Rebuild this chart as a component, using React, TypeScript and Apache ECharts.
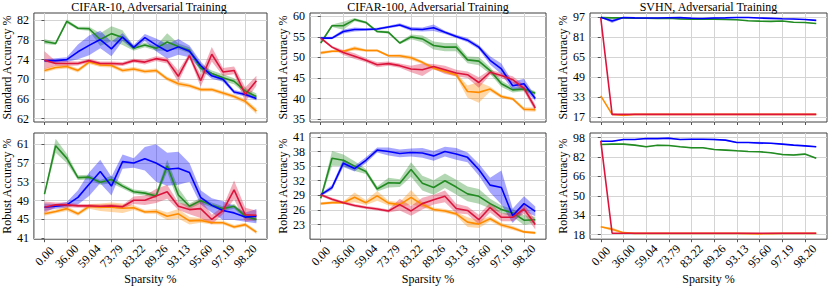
import React, { useEffect, useRef } from 'react';
import * as echarts from 'echarts';

// ---------- data ----------
const sparsityLabels = ['0.00', '36.00', '59.04', '73.79', '83.22', '89.26', '93.13', '95.60', '97.19', '98.20'];
const sparsityTickIdx = [0, 2, 4, 6, 8, 10, 12, 14, 16, 18];

const panelTitles = ['CIFAR-10, Adversarial Training', 'CIFAR-100, Adversarial Training', 'SVHN, Adversarial Training'];
const rowNames = ['Standard Accuracy %', 'Robust Accuracy %'];

// y ticks per panel
const yTicksC10Std = [62, 66, 70, 74, 78, 82];
const yTicksC100Std = [35, 40, 45, 50, 55, 60];
const yTicksSvhnStd = [17, 33, 49, 65, 81, 97];
const yTicksC10Rob = [41, 45, 49, 53, 57, 61];
const yTicksC100Rob = [23, 26, 29, 32, 35, 38, 41];
const yTicksSvhnRob = [18, 34, 50, 66, 82, 98];

// CIFAR-10 standard
const c10StdGreen = [77.7, 77.3, 81.8, 80.4, 80.3, 78.1, 79.3, 78.5, 76.3, 77.0, 76.3, 77.6, 76.7, 75.9, 72.3, 71.2, 70.3, 69.6, 67.6, 66.5];
const c10StdGreenErr = [0.5, 0.3, 0.4, 0.3, 0.4, 1.3, 1.5, 1.5, 0.5, 0.5, 0.5, 1.8, 0.6, 0.6, 0.8, 0.6, 0.7, 0.6, 0.6, 0.6];
const c10StdBlue = [73.8, 73.8, 74.0, 75.6, 76.9, 78.1, 76.2, 78.6, 76.5, 78.5, 77.0, 75.7, 76.6, 75.7, 72.8, 70.7, 70.0, 67.4, 66.9, 66.1];
const c10StdBlueErr = [0.3, 0.5, 0.5, 1.5, 2.0, 1.8, 1.5, 0.8, 0.5, 0.7, 1.3, 1.5, 1.6, 1.2, 0.8, 0.6, 0.5, 0.4, 0.4, 0.4];
const c10StdOrange = [71.8, 72.4, 72.6, 71.8, 73.5, 72.9, 72.8, 71.8, 72.1, 71.6, 71.8, 70.1, 69.1, 68.7, 67.9, 67.9, 67.2, 66.5, 65.5, 63.5];
const c10StdOrangeErr = [0.4, 0.4, 0.4, 0.4, 0.4, 0.4, 0.4, 0.4, 0.4, 0.4, 0.4, 0.4, 0.5, 0.4, 0.4, 0.4, 0.4, 0.4, 0.5, 0.6];
const c10StdRed = [73.9, 73.2, 73.2, 73.2, 73.8, 73.2, 73.2, 73.1, 73.8, 73.5, 74.2, 73.8, 70.6, 74.8, 69.7, 75.1, 71.5, 71.8, 66.9, 69.7];
const c10StdRedErr = [1.8, 0.5, 0.5, 0.4, 0.4, 0.4, 0.4, 0.4, 0.4, 0.5, 0.5, 0.6, 1.2, 0.5, 1.2, 1.5, 0.8, 0.8, 1.5, 1.0];

// CIFAR-100 standard
const c100StdGreen = [53.5, 57.7, 57.7, 59.2, 58.5, 56.3, 56.1, 53.5, 55.0, 54.5, 52.9, 52.5, 52.5, 49.4, 49.1, 46.8, 43.6, 42.1, 42.3, 41.3];
const c100StdGreenErr = [0.3, 0.3, 1.0, 0.4, 0.3, 0.3, 0.3, 0.3, 0.6, 0.8, 1.0, 1.0, 1.0, 0.8, 1.0, 0.8, 0.8, 0.6, 0.5, 0.5];
const c100StdBlue = [54.7, 54.7, 56.3, 56.8, 56.8, 56.9, 57.4, 57.9, 56.9, 56.8, 57.2, 56.1, 55.1, 54.2, 52.5, 49.3, 47.2, 43.1, 43.6, 40.0];
const c100StdBlueErr = [0.3, 0.3, 0.5, 0.5, 0.3, 0.3, 0.3, 0.4, 0.5, 0.5, 0.8, 0.4, 0.4, 0.5, 0.5, 1.0, 1.3, 1.0, 1.2, 0.6];
const c100StdOrange = [51.1, 51.5, 51.5, 52.2, 51.7, 51.7, 50.4, 50.4, 49.9, 48.8, 47.4, 46.6, 45.8, 41.7, 41.5, 42.3, 40.5, 39.9, 37.4, 37.3];
const c100StdOrangeErr = [0.4, 0.3, 0.3, 0.5, 0.3, 0.3, 0.3, 0.4, 0.5, 0.4, 0.4, 0.4, 0.5, 1.5, 2.5, 0.6, 0.4, 0.4, 0.5, 0.5];
const c100StdRed = [54.7, 52.5, 51.2, 50.3, 49.3, 48.2, 48.5, 48.0, 47.2, 47.0, 47.8, 47.0, 46.2, 45.8, 43.9, 46.4, 45.6, 44.6, 42.5, 37.7];
const c100StdRedErr = [0.3, 0.3, 0.6, 0.7, 0.5, 0.6, 0.5, 0.5, 0.8, 1.5, 0.6, 1.0, 0.8, 0.8, 1.3, 0.6, 0.6, 0.8, 0.8, 0.8];

// SVHN standard
const svhnStdGreen = [96.5, 96.3, 96.3, 96.0, 96.0, 95.8, 96.0, 95.5, 95.2, 95.5, 95.3, 95.0, 94.8, 94.0, 93.7, 93.5, 93.8, 92.8, 92.6, 91.8];
const svhnStdGreenErr = [0.3, 0.3, 0.3, 0.3, 0.3, 0.3, 0.3, 0.3, 0.3, 0.3, 0.3, 0.3, 0.3, 0.3, 0.3, 0.3, 0.3, 0.3, 0.3, 0.3];
const svhnStdBlue = [96.8, 93.8, 96.6, 96.3, 96.2, 96.2, 96.4, 96.5, 96.0, 95.8, 96.2, 96.3, 96.6, 96.6, 96.2, 95.9, 95.6, 95.4, 95.0, 94.3];
const svhnStdBlueErr = [0.3, 1.5, 0.4, 0.3, 0.3, 0.3, 0.3, 0.3, 0.6, 0.3, 0.5, 0.3, 0.3, 0.3, 0.3, 0.3, 0.3, 0.3, 0.3, 0.3];
const svhnStdOrange = [34.1, 19.4, 18.7, 19.4, 19.4, 19.4, 19.4, 19.4, 19.4, 19.4, 19.4, 19.4, 19.4, 19.4, 19.4, 19.4, 19.4, 19.4, 19.4, 19.4];
const svhnStdOrangeErr = [0.3, 0.3, 0.8, 0.3, 0.2, 0.2, 0.2, 0.2, 0.2, 0.2, 0.2, 0.2, 0.2, 0.2, 0.2, 0.2, 0.2, 0.2, 0.2, 0.2];
const svhnStdRed = [96.2, 19.4, 19.4, 19.4, 19.4, 19.4, 19.4, 19.4, 19.4, 19.4, 19.4, 19.4, 19.4, 19.4, 19.4, 19.4, 19.4, 19.4, 19.4, 19.4];
const svhnStdRedErr = [0.2, 0.2, 0.2, 0.2, 0.2, 0.2, 0.2, 0.2, 0.2, 0.2, 0.2, 0.2, 0.2, 0.2, 0.2, 0.2, 0.2, 0.2, 0.2, 0.2];

// CIFAR-10 robust
const c10RobGreen = [50.4, 60.7, 58.0, 53.9, 54.0, 52.9, 53.5, 52.1, 50.9, 50.6, 50.0, 56.4, 50.2, 47.8, 49.0, 48.1, 47.3, 47.8, 45.7, 45.0];
const c10RobGreenErr = [0.3, 1.5, 1.0, 0.5, 0.5, 0.5, 0.8, 0.5, 0.5, 0.5, 0.5, 1.3, 1.5, 0.6, 0.6, 0.5, 0.5, 0.5, 0.5, 0.5];
const c10RobBlue = [47.6, 47.8, 48.1, 49.7, 52.5, 55.2, 52.1, 57.3, 57.0, 57.9, 57.0, 55.7, 55.9, 55.0, 49.7, 48.0, 46.9, 46.4, 45.5, 45.7];
const c10RobBlueErr = [0.8, 0.5, 0.6, 1.5, 2.5, 2.5, 2.0, 1.5, 1.0, 2.5, 4.0, 3.5, 3.5, 2.0, 1.5, 1.5, 2.0, 1.5, 1.0, 1.5];
const c10RobOrange = [46.2, 46.7, 47.3, 46.2, 47.8, 47.6, 47.6, 47.4, 47.5, 46.6, 46.7, 45.7, 46.2, 44.7, 44.8, 44.3, 44.3, 43.4, 43.9, 42.3];
const c10RobOrangeErr = [0.4, 0.4, 0.5, 0.4, 0.5, 0.8, 1.0, 1.0, 0.5, 0.4, 0.5, 0.8, 1.0, 0.8, 0.5, 0.4, 0.4, 0.4, 0.4, 0.4];
const c10RobRed = [47.6, 48.1, 48.1, 47.9, 47.9, 47.8, 47.9, 47.7, 49.1, 49.1, 50.0, 50.9, 47.8, 47.1, 47.3, 45.0, 46.9, 51.3, 46.0, 45.9];
const c10RobRedErr = [1.2, 0.5, 0.5, 0.4, 0.4, 0.4, 0.4, 0.4, 0.8, 1.0, 1.5, 1.5, 0.8, 1.0, 2.0, 1.0, 0.8, 2.0, 1.5, 1.0];

// CIFAR-100 robust
const c100RobGreen = [28.4, 36.6, 36.2, 35.0, 33.9, 30.3, 31.6, 31.5, 34.3, 31.5, 30.6, 32.0, 30.7, 29.3, 28.8, 27.3, 26.1, 25.4, 23.9, 24.0];
const c100RobGreenErr = [0.3, 1.5, 1.2, 1.0, 0.5, 0.5, 1.0, 0.8, 1.5, 1.5, 1.5, 1.5, 1.5, 1.5, 1.5, 1.0, 0.8, 0.8, 1.0, 0.6];
const c100RobBlue = [29.1, 30.6, 35.6, 34.5, 36.2, 38.3, 38.0, 37.6, 37.8, 37.7, 37.1, 38.0, 37.5, 36.8, 34.3, 31.1, 30.6, 24.8, 27.3, 25.7];
const c100RobBlueErr = [0.3, 0.5, 0.8, 0.6, 0.6, 0.5, 0.8, 0.8, 0.8, 1.0, 1.0, 1.0, 1.2, 1.0, 1.2, 1.5, 3.5, 1.5, 1.5, 1.0];
const c100RobOrange = [27.3, 27.5, 27.5, 28.6, 27.5, 28.9, 27.4, 27.1, 28.6, 27.1, 26.1, 25.8, 25.2, 23.5, 23.1, 24.2, 22.9, 22.3, 21.5, 21.3];
const c100RobOrangeErr = [0.3, 0.3, 0.3, 1.0, 0.5, 1.0, 0.5, 0.5, 1.5, 0.5, 0.4, 0.4, 0.4, 1.0, 0.8, 0.5, 0.4, 0.4, 0.3, 0.3];
const c100RobRed = [29.1, 28.2, 27.5, 26.9, 26.5, 26.2, 25.8, 27.1, 25.8, 27.3, 28.1, 28.8, 26.3, 25.9, 24.0, 26.5, 24.5, 24.5, 26.2, 23.0];
const c100RobRedErr = [0.3, 0.3, 0.3, 0.3, 0.3, 0.3, 0.3, 1.2, 1.0, 1.2, 1.0, 1.2, 1.0, 0.8, 1.0, 1.0, 0.8, 0.8, 1.0, 1.0];

// SVHN robust
const svhnRobGreen = [92.3, 92.6, 92.6, 91.8, 90.4, 91.7, 91.5, 90.4, 89.6, 89.6, 88.2, 87.7, 87.1, 86.6, 86.3, 85.5, 84.1, 83.6, 84.4, 80.9];
const svhnRobGreenErr = [0.4, 0.4, 0.4, 0.4, 0.4, 0.4, 0.4, 0.4, 0.5, 0.4, 0.4, 0.4, 0.4, 0.4, 0.4, 0.4, 0.6, 0.8, 0.4, 0.4];
const svhnRobBlue = [95.0, 95.0, 96.4, 96.4, 97.2, 97.2, 97.5, 96.4, 96.7, 96.7, 96.4, 95.9, 94.0, 94.0, 93.6, 93.3, 92.6, 91.8, 91.2, 90.4];
const svhnRobBlueErr = [0.4, 0.4, 0.4, 0.4, 0.4, 0.4, 0.8, 0.4, 0.4, 0.4, 0.6, 0.4, 0.4, 0.4, 1.0, 0.4, 0.4, 0.4, 0.4, 0.4];
const svhnRobOrange = [24.5, 22.4, 19.6, 19.0, 19.0, 19.0, 19.0, 19.0, 19.0, 19.0, 19.0, 19.0, 19.0, 18.8, 18.6, 18.8, 19.0, 19.0, 19.0, 19.0];
const svhnRobOrangeErr = [0.4, 1.5, 0.5, 0.3, 0.3, 0.3, 0.3, 0.3, 0.3, 0.3, 0.3, 0.3, 0.3, 0.3, 0.3, 0.3, 0.3, 0.3, 0.3, 0.3];
const svhnRobRed = [95.3, 19.1, 19.1, 19.1, 19.1, 19.1, 19.1, 19.1, 19.1, 19.1, 19.1, 19.1, 19.1, 19.1, 19.1, 19.1, 19.1, 19.1, 19.1, 19.1];
const svhnRobRedErr = [0.2, 0.2, 0.2, 0.2, 0.2, 0.2, 0.2, 0.2, 0.2, 0.2, 0.2, 0.2, 0.2, 0.2, 0.2, 0.2, 0.2, 0.2, 0.2, 0.2];

// ---------- styling / layout ----------
const FONT = 'Liberation Serif';
const GREEN = '#228b22';
const BLUE = '#0000ff';
const ORANGE = '#ff8c00';
const RED = '#dc143c';
const BAND_ALPHA = 0.35;

function rgba(hex: string, a: number) {
  const n = parseInt(hex.slice(1), 16);
  return `rgba(${(n >> 16) & 255},${(n >> 8) & 255},${n & 255},${a})`;
}

type Curve = { mean: number[]; err: number[]; color: string };
type Panel = {
  box: { left: number; top: number; width: number; height: number };
  yMin: number;
  yMax: number;
  yTicks: number[];
  curves: Curve[];
  bottom: boolean;
  yName: string;
};

const panels: Panel[] = [
  {
    box: { left: 31, top: 13, width: 236, height: 109 }, yMin: 61.3, yMax: 83.5, yTicks: yTicksC10Std, bottom: false, yName: rowNames[0],
    curves: [
      { mean: c10StdGreen, err: c10StdGreenErr, color: GREEN },
      { mean: c10StdBlue, err: c10StdBlueErr, color: BLUE },
      { mean: c10StdOrange, err: c10StdOrangeErr, color: ORANGE },
      { mean: c10StdRed, err: c10StdRedErr, color: RED },
    ],
  },
  {
    box: { left: 310, top: 13, width: 236, height: 109 }, yMin: 34.3, yMax: 60.8, yTicks: yTicksC100Std, bottom: false, yName: rowNames[0],
    curves: [
      { mean: c100StdGreen, err: c100StdGreenErr, color: GREEN },
      { mean: c100StdBlue, err: c100StdBlueErr, color: BLUE },
      { mean: c100StdOrange, err: c100StdOrangeErr, color: ORANGE },
      { mean: c100StdRed, err: c100StdRedErr, color: RED },
    ],
  },
  {
    box: { left: 590, top: 13, width: 237, height: 109 }, yMin: 13.3, yMax: 100.2, yTicks: yTicksSvhnStd, bottom: false, yName: rowNames[0],
    curves: [
      { mean: svhnStdGreen, err: svhnStdGreenErr, color: GREEN },
      { mean: svhnStdBlue, err: svhnStdBlueErr, color: BLUE },
      { mean: svhnStdOrange, err: svhnStdOrangeErr, color: ORANGE },
      { mean: svhnStdRed, err: svhnStdRedErr, color: RED },
    ],
  },
  {
    box: { left: 31, top: 133, width: 236, height: 108 }, yMin: 40.8, yMax: 63.4, yTicks: yTicksC10Rob, bottom: true, yName: rowNames[1],
    curves: [
      { mean: c10RobGreen, err: c10RobGreenErr, color: GREEN },
      { mean: c10RobBlue, err: c10RobBlueErr, color: BLUE },
      { mean: c10RobOrange, err: c10RobOrangeErr, color: ORANGE },
      { mean: c10RobRed, err: c10RobRedErr, color: RED },
    ],
  },
  {
    box: { left: 310, top: 133, width: 236, height: 108 }, yMin: 20.0, yMax: 41.8, yTicks: yTicksC100Rob, bottom: true, yName: rowNames[1],
    curves: [
      { mean: c100RobGreen, err: c100RobGreenErr, color: GREEN },
      { mean: c100RobBlue, err: c100RobBlueErr, color: BLUE },
      { mean: c100RobOrange, err: c100RobOrangeErr, color: ORANGE },
      { mean: c100RobRed, err: c100RobRedErr, color: RED },
    ],
  },
  {
    box: { left: 590, top: 133, width: 237, height: 108 }, yMin: 14.2, yMax: 101.8, yTicks: yTicksSvhnRob, bottom: true, yName: rowNames[1],
    curves: [
      { mean: svhnRobGreen, err: svhnRobGreenErr, color: GREEN },
      { mean: svhnRobBlue, err: svhnRobBlueErr, color: BLUE },
      { mean: svhnRobOrange, err: svhnRobOrangeErr, color: ORANGE },
      { mean: svhnRobRed, err: svhnRobRedErr, color: RED },
    ],
  },
];

function buildOption() {
  const grid: any[] = [];
  const xAxis: any[] = [];
  const yAxis: any[] = [];
  const series: any[] = [];
  const graphic: any[] = [];

  panels.forEach((p, k) => {
    grid.push({ ...p.box, show: true, borderColor: '#404040', borderWidth: 1, backgroundColor: 'transparent', containLabel: false });
    xAxis.push({
      type: 'value', gridIndex: k, min: -0.95, max: 19.95,
      axisLine: { show: false },
      axisTick: { show: true, customValues: sparsityTickIdx, length: 3, lineStyle: { color: '#555' } },
      axisLabel: {
        show: p.bottom, customValues: sparsityTickIdx, rotate: 45, margin: 17,
        align: 'center', verticalAlign: 'middle',
        fontFamily: FONT, fontSize: 12, color: '#000',
        formatter: (v: number) => sparsityLabels[sparsityTickIdx.indexOf(Math.round(v))] ?? '',
      },
      splitLine: { show: true, lineStyle: { color: '#d4d4d4', width: 1 } },
      name: p.bottom ? 'Sparsity %' : '', nameLocation: 'middle', nameGap: 29,
      nameTextStyle: { fontFamily: FONT, fontSize: 12, color: '#000' },
    });
    yAxis.push({
      type: 'value', gridIndex: k, min: p.yMin, max: p.yMax,
      axisLine: { show: false },
      axisTick: { show: true, customValues: p.yTicks, length: 3, lineStyle: { color: '#555' } },
      axisLabel: { customValues: p.yTicks, margin: 5, fontFamily: FONT, fontSize: 12, color: '#000' },
      splitLine: { show: true, lineStyle: { color: '#d4d4d4', width: 1 } },
      name: p.yName, nameLocation: 'middle', nameGap: 19,
      nameTextStyle: { fontFamily: FONT, fontSize: 12, color: '#000' },
    });
    p.curves.forEach((c) => {
      series.push({
        type: 'custom', xAxisIndex: k, yAxisIndex: k, silent: true, z: 1,
        data: c.mean.map((m, i) => [i, m - c.err[i], m + c.err[i]]),
        encode: { x: 0, y: [1, 2] },
        renderItem: (params: any, api: any) => {
          if (params.dataIndex !== 0) return null;
          const up = c.mean.map((m, i) => api.coord([i, m + c.err[i]]));
          const lo = c.mean.map((m, i) => api.coord([i, m - c.err[i]])).reverse();
          return { type: 'polygon', shape: { points: up.concat(lo) }, style: { fill: rgba(c.color, BAND_ALPHA), stroke: 'none' } };
        },
      });
    });
    p.curves.forEach((c) => {
      series.push({
        type: 'line', xAxisIndex: k, yAxisIndex: k, silent: true, z: 3,
        data: c.mean.map((m, i) => [i, m]),
        symbol: 'none', showSymbol: false,
        lineStyle: { color: c.color, width: 1.6 }, itemStyle: { color: c.color },
      });
    });
  });

  [0, 1, 2].forEach((k) => {
    const b = panels[k].box;
    graphic.push({
      type: 'text', x: b.left + b.width / 2, y: 1,
      style: { text: panelTitles[k], fontFamily: FONT, fontSize: 12, fill: '#000', textAlign: 'center', textVerticalAlign: 'top' },
    });
  });

  return { animation: false, backgroundColor: '#fff', grid, xAxis, yAxis, series, graphic };
}

export default function App() {
  const ref = useRef<HTMLDivElement>(null);
  useEffect(() => {
    if (!ref.current) return;
    const chart = echarts.init(ref.current, undefined, { renderer: 'svg' });
    chart.setOption(buildOption() as any);
    return () => chart.dispose();
  }, []);
  return <div ref={ref} style={{ position: 'fixed', left: 0, top: 0, width: 830, height: 286 }} />;
}
